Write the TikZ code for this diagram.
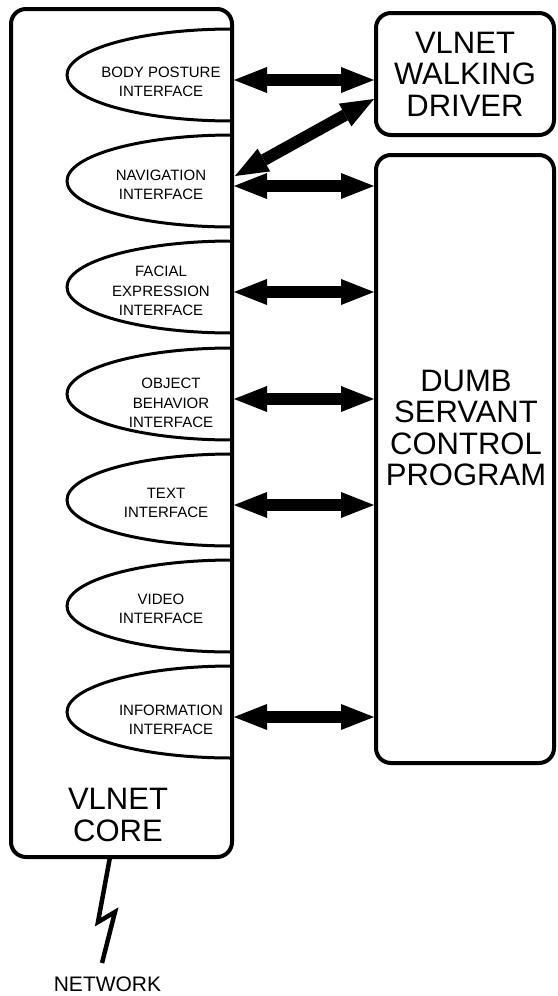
\documentclass[tikz,border=0pt]{standalone}
\usepackage{fontspec}
\setmainfont{Liberation Sans}
\usetikzlibrary{arrows.meta}
\begin{document}
\begin{tikzpicture}[x=1pt,y=-1pt,
  box/.style={draw, line width=4pt, rounded corners=15pt, outer sep=0pt, inner sep=0pt},
  iface/.style={align=center, font=\fontsize{15}{19.5}\selectfont, inner sep=0pt},
  bigtext/.style={align=center, font=\fontsize{31}{31.5}\selectfont, inner sep=0pt},
  dbl/.style={line width=12pt, {Triangle[length=33pt,width=26pt,line width=0pt]}-{Triangle[length=33pt,width=26pt,line width=0pt]}},
  ell/.style={line width=3pt},
  bolt/.style={line width=4.5pt, line join=miter}
]
\useasboundingbox (0,0) rectangle (557,996);
% half ellipses (interfaces)
\begin{scope}
  \clip (0,0) rectangle (232,996);
  \foreach \c/\n in {75/1,181/2,287/3,394/4,500/5,606/6,712/7}
    \draw[ell] (232,\c) ellipse[x radius=165, y radius=46];
\end{scope}
% boxes
\node[box, minimum width=221pt, minimum height=848pt] (core) at (121.5,433) {};
\node[box, bigtext, minimum width=178pt, minimum height=122pt] (walk) at (465,74) {VLNET\\WALKING\\DRIVER};
\node[box, minimum width=178pt, minimum height=608pt] (dumb) at (465,459) {};
\node[bigtext] (dumbtxt) at (466,428) {DUMB\\SERVANT\\CONTROL\\PROGRAM};
\node[bigtext] (coretxt) at (118,815) {VLNET\\CORE};
% interface labels
\node[iface] (t1) at (161,82) {BODY POSTURE\\INTERFACE};
\node[iface] (t2) at (161,185) {NAVIGATION\\INTERFACE};
\node[iface] (t3) at (161,291) {FACIAL\\EXPRESSION\\INTERFACE};
\node[iface] (t4) at (171,403) {OBJECT\\BEHAVIOR\\INTERFACE};
\node[iface] (t5) at (166,503) {TEXT\\INTERFACE};
\node[iface] (t6) at (161,609) {VIDEO\\INTERFACE};
\node[iface] (t7) at (171,720) {INFORMATION\\INTERFACE};
% arrow end points
\foreach \y/\n in {80/1,186/2,292/3,399/4,505/5,717/7}
  \coordinate (L\n) at (234,\y);
\draw[dbl] (L1) -- ([xshift=-2pt]L1 -| walk.west);
\foreach \n in {2,3,4,5,7}
  \draw[dbl] (L\n) -- ([xshift=-2pt]L\n -| dumb.west);
\coordinate (D1) at (374,99);
\coordinate (D2) at (235,176);
\draw[dbl] (D2) -- (D1);
% network bolt
\coordinate (b0) at (110,857);
\coordinate (b1) at (98,922);
\coordinate (b2) at (115,912);
\coordinate (b3) at (102,963);
\draw[bolt] (b0) -- (b1) -- (b2) -- (b3);
\node[font=\fontsize{21}{24}\selectfont, inner sep=0pt] (net) at (107.5,984) {NETWORK};
\end{tikzpicture}
\end{document}
